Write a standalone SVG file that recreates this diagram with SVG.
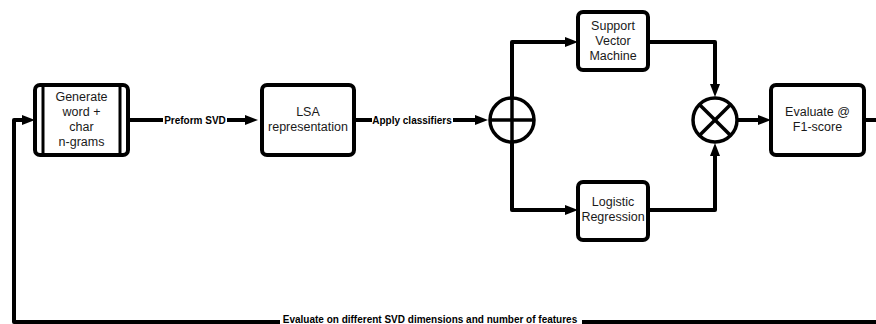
<svg xmlns="http://www.w3.org/2000/svg" width="876" height="324" viewBox="0 0 876 324">
<style>
.box{fill:#fff;stroke:#000;stroke-width:4}
.ln{fill:none;stroke:#000;stroke-width:4;stroke-linejoin:round}
.t{font-family:"Liberation Sans",Arial,sans-serif;font-size:12.5px;fill:#1a1a1a;text-anchor:middle}
.lb{font-family:"Liberation Sans",Arial,sans-serif;font-size:10px;font-weight:bold;fill:#000;text-anchor:middle}
</style>
<defs>
<marker id="ah" markerWidth="13" markerHeight="10" refX="4" refY="5" orient="auto" markerUnits="userSpaceOnUse">
<path d="M0,0 L13,5 L0,10 z" fill="#000"/>
</marker>
</defs>
<g id="connectors">
<path class="ln" d="M128,120 H249" marker-end="url(#ah)"/>
<rect x="163" y="113" width="64" height="13" fill="#fff"/>
<text class="lb" x="195" y="123.5">Preform SVD</text>
<path class="ln" d="M354,120 H479" marker-end="url(#ah)"/>
<rect x="372" y="113" width="81" height="13" fill="#fff"/>
<text class="lb" x="412" y="123.5">Apply classifiers</text>
<path class="ln" d="M512,97 V42 H569" marker-end="url(#ah)"/>
<path class="ln" d="M512,143 V210 H569" marker-end="url(#ah)"/>
<path class="ln" d="M648,42 H715 V88" marker-end="url(#ah)"/>
<path class="ln" d="M648,210 H715 V152" marker-end="url(#ah)"/>
<path class="ln" d="M738,120 H762" marker-end="url(#ah)"/>
<path class="ln" d="M864,120 H880"/>
<path class="ln" d="M880,322 H14 V120 H26" marker-end="url(#ah)"/>
<rect x="280" y="314" width="302" height="10" fill="#fff"/>
<text class="lb" x="430" y="323">Evaluate on different SVD dimensions and number of features</text>
</g>
<g id="ngrams">
<rect class="box" x="35" y="85" width="93" height="70" rx="5"/>
<line x1="43" y1="85" x2="43" y2="155" stroke="#000" stroke-width="3"/>
<line x1="120" y1="85" x2="120" y2="155" stroke="#000" stroke-width="3"/>
<text class="t" x="81.5" y="101">Generate</text>
<text class="t" x="81.5" y="116">word +</text>
<text class="t" x="81.5" y="131">char</text>
<text class="t" x="81.5" y="146">n-grams</text>
</g>
<g id="lsa">
<rect class="box" x="262" y="85" width="92" height="70" rx="5"/>
<text class="t" x="308" y="116">LSA</text>
<text class="t" x="308" y="131">representation</text>
</g>
<g id="sum">
<circle cx="512" cy="120" r="22" fill="#fff" stroke="#000" stroke-width="3.5"/>
<line x1="512" y1="98" x2="512" y2="142" stroke="#000" stroke-width="3.5"/>
<line x1="490" y1="120" x2="534" y2="120" stroke="#000" stroke-width="3.5"/>
</g>
<g id="svm">
<rect class="box" x="578" y="12" width="70" height="58" rx="5"/>
<text class="t" x="613" y="30">Support</text>
<text class="t" x="613" y="45">Vector</text>
<text class="t" x="613" y="60">Machine</text>
</g>
<g id="logreg">
<rect class="box" x="578" y="182" width="70" height="58" rx="5"/>
<text class="t" x="613" y="206">Logistic</text>
<text class="t" x="613" y="221">Regression</text>
</g>
<g id="mul">
<circle cx="715" cy="120" r="22" fill="#fff" stroke="#000" stroke-width="3.5"/>
<line x1="699.4" y1="104.4" x2="730.6" y2="135.6" stroke="#000" stroke-width="3.5"/>
<line x1="730.6" y1="104.4" x2="699.4" y2="135.6" stroke="#000" stroke-width="3.5"/>
</g>
<g id="evaluate">
<rect class="box" x="771" y="85" width="93" height="70" rx="5"/>
<text class="t" x="817.5" y="116">Evaluate @</text>
<text class="t" x="817.5" y="131">F1-score</text>
</g>
</svg>
